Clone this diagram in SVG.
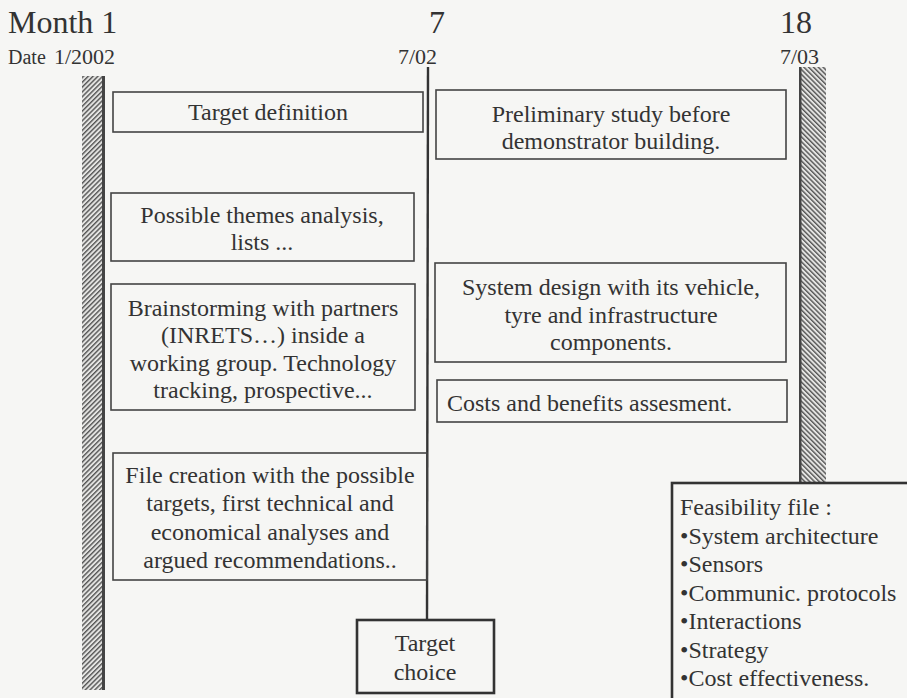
<svg xmlns="http://www.w3.org/2000/svg" width="907" height="698" viewBox="0 0 907 698">
<defs>
<pattern id="hatchL" width="3.4" height="3.4" patternUnits="userSpaceOnUse" patternTransform="rotate(45)">
<rect width="3.4" height="3.4" fill="#e4e4e2"/>
<rect width="1.4" height="3.4" fill="#555"/>
</pattern>
<pattern id="hatchR" width="3.4" height="3.4" patternUnits="userSpaceOnUse" patternTransform="rotate(-45)">
<rect width="3.4" height="3.4" fill="#e4e4e2"/>
<rect width="1.4" height="3.4" fill="#555"/>
</pattern>
<style>
text{font-family:"Liberation Serif","Times New Roman",serif;fill:#333}
.t{font-size:24px;text-anchor:middle}
.tl{font-size:24px}
.hd{font-size:32px}
.dt{font-size:22px}
.box{fill:none;stroke:#444;stroke-width:1.6}
.bold{fill:none;stroke:#333;stroke-width:2.6}
</style>
</defs>
<rect width="907" height="698" fill="#f6f6f4"/>
<g id="header">
<text class="hd" x="8" y="33">Month 1</text>
<text class="hd" x="429" y="33">7</text>
<text class="hd" x="780" y="33">18</text>
<text class="dt" x="8" y="64" style="font-size:20px">Date</text>
<text class="dt" x="54" y="64">1/2002</text>
<text class="dt" x="398" y="64">7/02</text>
<text class="dt" x="780" y="64">7/03</text>
</g>
<g id="connectors">
<rect x="82" y="76" width="21" height="614" fill="url(#hatchL)"/>
<rect x="102" y="76" width="3" height="614" fill="#444"/>
<rect x="801" y="67" width="25" height="416" fill="url(#hatchR)"/>
<rect x="799" y="67" width="2.5" height="416" fill="#444"/>
<line x1="428" y1="67" x2="427" y2="620" stroke="#333" stroke-width="2.4"/>
</g>
<g id="target-definition">
<rect class="box" x="113" y="92" width="310" height="40"/>
<text class="t" x="268" y="120">Target definition</text>
</g>
<g id="preliminary-study">
<rect class="box" x="436" y="90" width="350" height="69"/>
<text class="t" x="611" y="122">Preliminary study before</text>
<text class="t" x="611" y="149">demonstrator building.</text>
</g>
<g id="possible-themes">
<rect class="box" x="111" y="193" width="303" height="68"/>
<text class="t" x="262" y="223">Possible themes analysis,</text>
<text class="t" x="262" y="250">lists ...</text>
</g>
<g id="brainstorming">
<rect class="box" x="111" y="284" width="304" height="126"/>
<text class="t" x="263" y="316">Brainstorming with partners</text>
<text class="t" x="263" y="343">(INRETS…) inside a</text>
<text class="t" x="263" y="371">working group. Technology</text>
<text class="t" x="263" y="398">tracking, prospective...</text>
</g>
<g id="system-design">
<rect class="box" x="435" y="263" width="351" height="99"/>
<text class="t" x="611" y="295">System design with its vehicle,</text>
<text class="t" x="611" y="323">tyre and infrastructure</text>
<text class="t" x="611" y="350">components.</text>
</g>
<g id="costs-benefits">
<rect class="box" x="437" y="380" width="350" height="42"/>
<text class="tl" x="447" y="411">Costs and benefits assesment.</text>
</g>
<g id="file-creation">
<rect class="box" x="113" y="453" width="314" height="127"/>
<text class="t" x="270" y="483">File creation with the possible</text>
<text class="t" x="270" y="511">targets,  first technical and</text>
<text class="t" x="270" y="540">economical analyses and</text>
<text class="t" x="270" y="568">argued recommendations..</text>
</g>
<g id="target-choice">
<rect class="bold" x="357" y="620" width="137" height="73"/>
<text class="t" x="425" y="651">Target</text>
<text class="t" x="425" y="680">choice</text>
</g>
<g id="feasibility-file">
<rect class="bold" x="672" y="483" width="250" height="230"/>
<text class="tl" x="680" y="515">Feasibility file :</text>
<text class="tl" x="680" y="543.5">•System architecture</text>
<text class="tl" x="680" y="572">•Sensors</text>
<text class="tl" x="680" y="600.5">•Communic. protocols</text>
<text class="tl" x="680" y="629">•Interactions</text>
<text class="tl" x="680" y="657.5">•Strategy</text>
<text class="tl" x="680" y="686">•Cost effectiveness.</text>
</g>
</svg>
